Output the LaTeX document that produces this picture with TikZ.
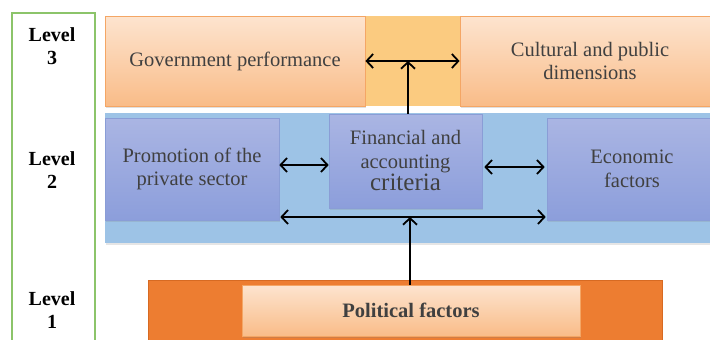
\documentclass[tikz,border=0pt]{standalone}
\usepackage{fontspec}
\setmainfont{Liberation Serif}
\usetikzlibrary{arrows.meta,shadows}

\definecolor{peachtop}{HTML}{FDE4CF}
\definecolor{peachbot}{HTML}{F9BC88}
\definecolor{peachline}{HTML}{F4A665}
\definecolor{bandfill}{HTML}{FBCB80}
\definecolor{skyfill}{HTML}{9DC3E6}
\definecolor{lavtop}{HTML}{AAB5E3}
\definecolor{lavbot}{HTML}{8C9EDB}
\definecolor{lavline}{HTML}{8A9DD6}
\definecolor{pumpkin}{HTML}{ED7D31}
\definecolor{pumpkinline}{HTML}{D76A22}
\definecolor{leafline}{HTML}{8CC46A}
\definecolor{inktext}{HTML}{404040}

\tikzset{
  x=1pt, y=-1pt,
  boxtext/.style={font=\fontsize{20.5}{23.5}\selectfont, text=inktext, align=center},
  peachbox/.style={rectangle, draw=peachline, line width=0.8pt,
    top color=peachtop, bottom color=peachbot, boxtext,
    drop shadow={opacity=0.25, shadow xshift=1pt, shadow yshift=-1.5pt}},
  lavbox/.style={rectangle, draw=lavline, line width=0.6pt,
    top color=lavtop, bottom color=lavbot, boxtext,
    drop shadow={opacity=0.2, shadow xshift=1pt, shadow yshift=-1.5pt}},
  levellabel/.style={font=\bfseries\fontsize{20}{23}\selectfont, align=center, text=black},
  link/.style={line width=1.8pt, black},
  twoway/.style={link, {Straight Barb[length=6.5pt,width=14pt]}-{Straight Barb[length=6.5pt,width=14pt]}},
  oneway/.style={link, -{Straight Barb[length=6.5pt,width=14pt]}},
}

\begin{document}
\begin{tikzpicture}
\useasboundingbox[fill=white] (0,0) rectangle (710,340);

% level column
\draw[leafline, line width=1.8pt] (12,13) rectangle (95,350);
\node[levellabel] (lv3) at (52,46) {Level\\3};
\node[levellabel] (lv2) at (52,170) {Level\\2};
\node[levellabel] (lv1) at (52,310) {Level\\1};

% level 3
\node[rectangle, fill=bandfill, minimum width=95pt, minimum height=90pt, inner sep=0pt] (band) at (412.5,61) {};
\node[peachbox, minimum width=260pt, minimum height=90pt, inner sep=0pt] (gov) at (235,61) {Government performance};
\node[peachbox, minimum width=260pt, minimum height=90pt, inner sep=0pt] (cult) at (590,61) {Cultural and public\\dimensions};

% level 2
\node[rectangle, fill=skyfill, minimum width=620pt, minimum height=130pt, inner sep=0pt,
  drop shadow={opacity=0.2, shadow xshift=1pt, shadow yshift=-1.5pt}] (sky) at (415,178) {};
\node[lavbox, minimum width=174pt, minimum height=102pt, inner sep=0pt] (promo) at (192,169) {Promotion of the\\private sector};
\node[lavbox, minimum width=153pt, minimum height=94pt, inner sep=0pt] (fin) at (405.5,161)
  {Financial and\\accounting\\[-1pt]{\fontsize{25}{26}\selectfont criteria}};
\node[lavbox, minimum width=170pt, minimum height=102pt, inner sep=0pt] (econ) at (632,169) {Economic\\factors};

% level 1
\node[rectangle, fill=pumpkin, draw=pumpkinline, line width=0.6pt, minimum width=514pt, minimum height=70pt, inner sep=0pt] (polbase) at (405,315) {};
\node[peachbox, font=\bfseries\fontsize{20.5}{23}\selectfont, minimum width=338pt, minimum height=51pt, inner sep=0pt] (pol) at (411,310.5) {Political factors};

% junction points on the horizontal links
\coordinate (top) at (408,61);
\coordinate (bottom) at (410,217);

% connectors
\draw[twoway] (gov.east |- top) -- (cult.west |- top);
\draw[oneway] (fin.north -| top) -- (top);
\draw[twoway] ([yshift=4pt]promo.east) -- ([yshift=4pt]fin.west |- promo.east);
\draw[twoway] ([xshift=2pt,yshift=2pt]fin.east |- econ.west) -- ([xshift=-2pt,yshift=2pt]econ.west);
\draw[twoway] ([xshift=1pt]promo.east |- bottom) -- ([xshift=-1pt]econ.west |- bottom);
\draw[oneway] (pol.north -| bottom) -- (bottom);
\end{tikzpicture}
\end{document}
